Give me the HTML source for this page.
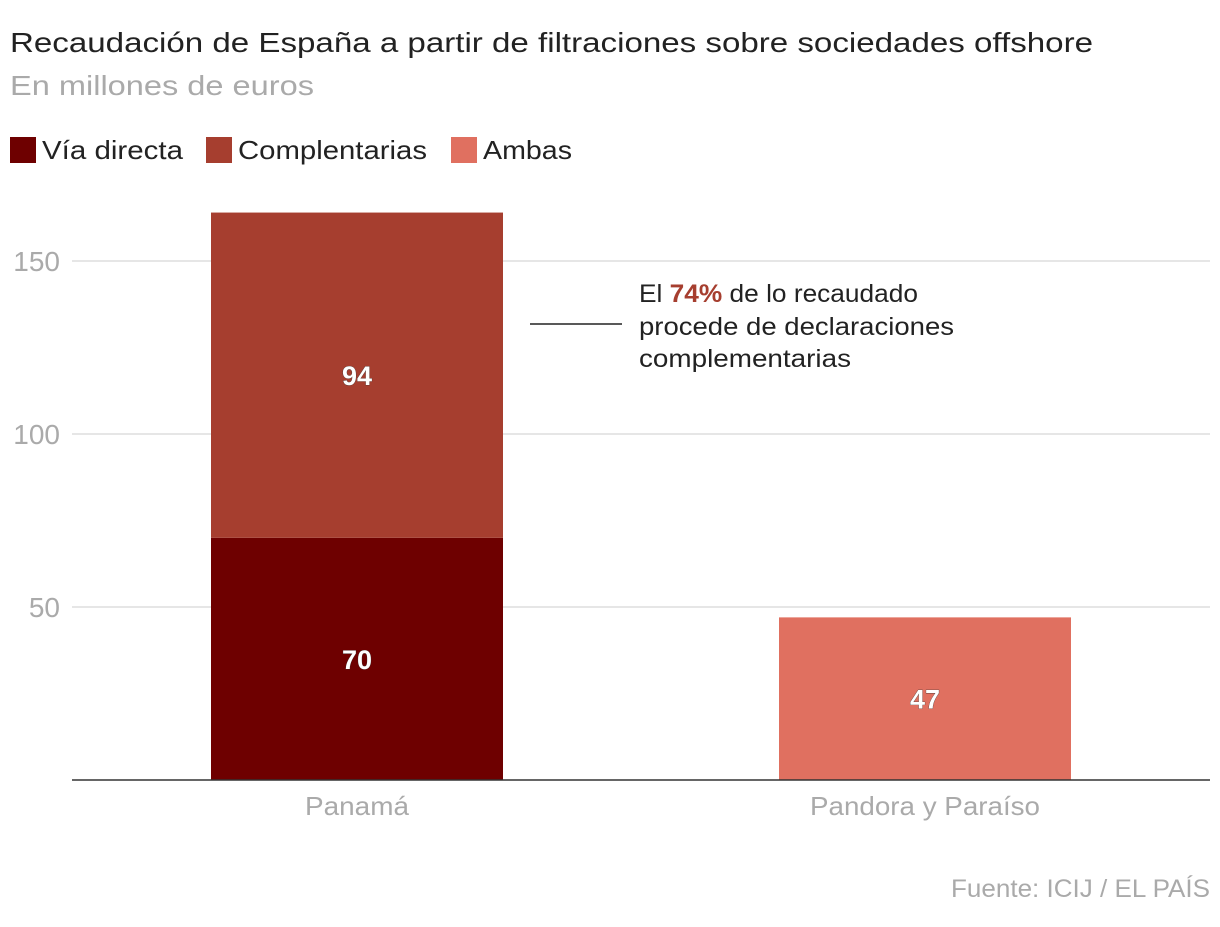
<!DOCTYPE html>
<html><head><meta charset="utf-8"><style>
body{margin:0;background:#fff;width:1220px;height:922px;overflow:hidden;font-family:"Liberation Sans",sans-serif}
svg text{font-family:"Liberation Sans",sans-serif}
</style></head><body>
<svg id="c" width="1220" height="922">
<text x="10" y="52" font-size="28" fill="#222" textLength="1083" lengthAdjust="spacingAndGlyphs">Recaudación de España a partir de filtraciones sobre sociedades offshore</text>
<text x="10" y="95" font-size="28" fill="#aaa" textLength="304" lengthAdjust="spacingAndGlyphs">En millones de euros</text>
<g>
<rect x="10" y="137" width="26" height="26" fill="#6e0000"/>
<text x="42" y="159" font-size="26" fill="#222" textLength="141" lengthAdjust="spacingAndGlyphs">Vía directa</text>
<rect x="206" y="137" width="26" height="26" fill="#a63e2f"/>
<text x="238" y="159" font-size="26" fill="#222" textLength="189" lengthAdjust="spacingAndGlyphs">Complentarias</text>
<rect x="451" y="137" width="26" height="26" fill="#e07060"/>
<text x="483" y="159" font-size="26" fill="#222" textLength="89" lengthAdjust="spacingAndGlyphs">Ambas</text>
</g>
<g id="grid"></g><g id="bars"></g>
<line x1="530" y1="324" x2="622" y2="324" stroke="#222" stroke-width="1.5"/>
<text font-size="25" fill="#222">
<tspan x="639" y="302" textLength="279" lengthAdjust="spacingAndGlyphs">El <tspan fill="#a63e2f" font-weight="bold">74%</tspan> de lo recaudado</tspan>
<tspan x="639" y="335" textLength="315" lengthAdjust="spacingAndGlyphs">procede de declaraciones</tspan>
<tspan x="639" y="367" textLength="212" lengthAdjust="spacingAndGlyphs">complementarias</tspan></text>
<text x="951" y="897" font-size="25" fill="#aaa" textLength="259" lengthAdjust="spacingAndGlyphs">Fuente: ICIJ / EL PAÍS</text>
</svg>
<script>
const categories=["Panamá","Pandora y Paraíso"];
const viaDirecta=[70,0];
const complementarias=[94,0];
const ambas=[0,47];
const ticks=[50,100,150];
const y=v=>780-v*3.46;
const xs=[211,779], bw=292;
const ns="http://www.w3.org/2000/svg";
const g=document.getElementById('grid'), b=document.getElementById('bars');
function mk(p,t,a){const e=document.createElementNS(ns,t);for(const k in a)e.setAttribute(k,a[k]);p.appendChild(e);return e;}
ticks.forEach(t=>{
 const l=mk(g,'line',{x1:72,x2:1210,y1:y(t),y2:y(t),stroke:'#ddd','stroke-width':1.5});
 
 
 const tx=mk(g,'text',{x:60,y:y(t)+10,'font-size':28,fill:'#aaa','text-anchor':'end'});tx.textContent=t;
 
 
});
categories.forEach((c,i)=>{
 let base=0;
 [[viaDirecta,'#6e0000','via-directa'],[complementarias,'#a63e2f','complementarias'],[ambas,'#e07060','ambas']].forEach(([arr,col,nm])=>{
  const v=arr[i]; if(!v)return;
  const r=mk(b,'rect',{x:xs[i],y:y(base+v),width:bw,height:y(base)-y(base+v),fill:col});
  
  
  const t=mk(b,'text',{x:xs[i]+bw/2,y:(y(base)+y(base+v))/2+10,'font-size':27,'font-weight':'bold',fill:'#fff','text-anchor':'middle',stroke:'#333','stroke-width':0.6,'paint-order':'stroke'});
  t.textContent=v;
  
  
  base+=v;
 });
 const t=mk(b,'text',{x:xs[i]+bw/2,y:815,'font-size':26,fill:'#aaa','text-anchor':'middle',textLength:i?230:104,lengthAdjust:'spacingAndGlyphs'});t.textContent=c;
 
 
});
const ax=mk(b,'line',{x1:72,x2:1210,y1:780,y2:780,stroke:'#333','stroke-width':1.5});


</script>
</body></html>
